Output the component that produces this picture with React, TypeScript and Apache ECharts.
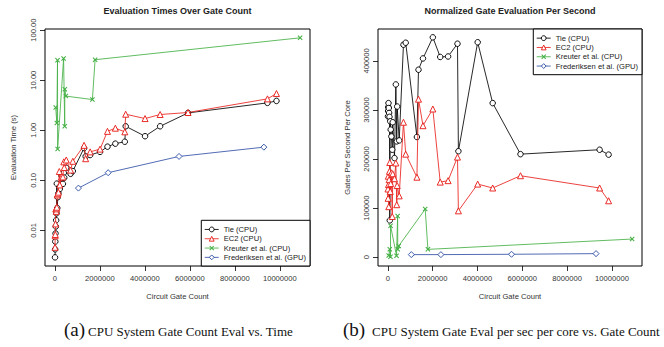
import React, { useEffect, useRef } from 'react';
import * as echarts from 'echarts';

const SERIES_NAMES = ['Tie (CPU)', 'EC2 (CPU)', 'Kreuter et al. (CPU)', 'Frederiksen et al. (GPU)'];

const tieGates = [10000, 15000, 22000, 32000, 45000, 60000, 75000, 90000, 110000, 130000, 160000, 200000, 220000, 300000, 360000, 400000, 420000, 510000, 700000, 800000, 1300000, 1370000, 1570000, 2010000, 2340000, 2690000, 3110000, 3150000, 4010000, 4680000, 5920000, 9450000, 9850000];
const tieTime = [0.0029, 0.0042, 0.006, 0.0087, 0.012, 0.016, 0.022, 0.086, 0.028, 0.046, 0.055, 0.073, 0.067, 0.124, 0.085, 0.141, 0.113, 0.178, 0.135, 0.153, 0.44, 0.3, 0.32, 0.37, 0.47, 0.54, 0.59, 1.2, 0.76, 1.2, 2.22, 3.52, 3.85];
const tieRate = [287000, 298000, 306000, 314000, 304000, 294000, 286000, 75000, 277000, 260000, 246000, 219000, 275000, 202000, 352000, 236000, 307000, 238000, 433000, 437000, 245000, 382000, 405000, 448000, 408000, 409000, 435000, 216000, 438000, 314000, 210000, 219000, 209000];

const ec2Gates = [10000, 15000, 22000, 32000, 45000, 60000, 75000, 90000, 110000, 130000, 160000, 200000, 220000, 300000, 360000, 400000, 420000, 510000, 700000, 800000, 1300000, 1370000, 1570000, 2010000, 2340000, 2690000, 3110000, 3150000, 4010000, 4680000, 5920000, 9450000, 9850000];
const ec2Time = [0.0046, 0.0078, 0.0083, 0.0135, 0.027, 0.024, 0.027, 0.029, 0.051, 0.054, 0.058, 0.15, 0.081, 0.117, 0.117, 0.234, 0.18, 0.255, 0.16, 0.24, 0.5, 0.27, 0.37, 0.42, 0.95, 1.1, 0.93, 2.09, 1.71, 2.06, 2.26, 4.23, 5.41];
const ec2Rate = [139000, 120000, 165000, 148000, 103000, 158000, 175000, 193000, 134000, 150000, 172000, 83000, 170000, 160000, 192000, 107000, 146000, 125000, 275000, 210000, 163000, 322000, 268000, 302000, 153000, 156000, 204000, 94500, 149000, 141000, 166000, 141000, 115000];

const kreuterGates = [40000, 90000, 120000, 125000, 390000, 440000, 445000, 490000, 1670000, 1790000, 10900000];
const kreuterTime = [2.84, 1.4, 25, 0.42, 27, 1.2, 6.6, 4.8, 4.1, 25.6, 70];
const kreuterRate = [3400, 16000, 1000, 64000, 3000, 84000, 16000, 23000, 98000, 16000, 37000];

const fredGates = [1050000, 2370000, 5520000, 9290000];
const fredTime = [0.07, 0.142, 0.3, 0.46];
const fredRate = [5300, 5300, 6000, 7300];

const gateTicks = [0, 2000000, 4000000, 6000000, 8000000, 10000000];
const timeTicks = [0.01, 0.1, 1, 10, 100];
const rateTicks = [0, 100000, 200000, 300000, 400000];

const FONT = '"Liberation Sans", Arial, Helvetica, sans-serif';
const SERIF = '"Liberation Serif", "Times New Roman", serif';
const COLORS = ['#000000', '#e8211c', '#45b045', '#3352a6'];
const X_PATH = 'path://M0,1.5L1.5,0L5,3.5L8.5,0L10,1.5L6.5,5L10,8.5L8.5,10L5,6.5L1.5,10L0,8.5L3.5,5Z';
const SYMBOLS = ['circle', 'triangle', X_PATH, 'diamond'];
const SIZES = [5.5, 6, 5, 6];

const zip = (a: number[], b: number[]) => a.map((v, i) => [v, b[i]]);

export default function App() {
  const ref = useRef<HTMLDivElement>(null);
  useEffect(() => {
    if (!ref.current) return;
    const chart = echarts.init(ref.current, undefined, { renderer: 'svg' });

    const labelStyle = { fontSize: 7.6, fontFamily: FONT, color: '#333' };
    const tickStyle = { lineStyle: { color: '#000', width: 0.8 }, length: 5 };
    const nameStyle = { fontSize: 7.6, fontFamily: FONT, color: '#333' };

    const mkX = (gi: number) => ({
      type: 'value', gridIndex: gi, min: -436000, max: 11340000,
      axisLine: { show: false, onZero: false },
      axisTick: { show: true, customValues: gateTicks, ...tickStyle },
      axisLabel: { customValues: gateTicks, formatter: (v: number) => String(v), margin: 8, ...labelStyle },
      splitLine: { show: false },
      name: 'Circuit Gate Count', nameLocation: 'middle', nameGap: 26, nameTextStyle: nameStyle,
    });

    const dataSets = [
      [zip(tieGates, tieTime), zip(ec2Gates, ec2Time), zip(kreuterGates, kreuterTime), zip(fredGates, fredTime)],
      [zip(tieGates, tieRate), zip(ec2Gates, ec2Rate), zip(kreuterGates, kreuterRate), zip(fredGates, fredRate)],
    ];

    const series: any[] = [];
    for (let g = 0; g < 2; g++) {
      for (let s = 0; s < 4; s++) {
        const isPath = s === 2;
        series.push({
          type: 'line', name: SERIES_NAMES[s], xAxisIndex: g, yAxisIndex: g,
          data: dataSets[g][s], symbol: SYMBOLS[s], symbolSize: SIZES[s], showSymbol: true,
          lineStyle: { color: COLORS[s], width: 0.85 },
          itemStyle: isPath ? { color: COLORS[s], borderWidth: 0 } : { color: '#ffffff', borderColor: COLORS[s], borderWidth: 0.95 },
          emphasis: { disabled: true }, silent: true, z: 2 + s,
        });
      }
    }

    const legendBase = {
      data: SERIES_NAMES, orient: 'vertical', backgroundColor: '#fff', borderColor: '#000', borderWidth: 1,
      borderRadius: 0, padding: [4.5, 4, 4, 3], itemWidth: 14, itemHeight: 6, itemGap: 0,
      itemStyle: { borderWidth: 0.95 },
      lineStyle: { width: 0.85 },
      textStyle: { fontSize: 7.6, fontFamily: FONT, color: '#222', lineHeight: 9.3 },
      selectedMode: false, z: 10,
    };

    chart.setOption({
      animation: false,
      backgroundColor: '#ffffff',
      grid: [
        { left: 45, top: 29, width: 265, height: 237, show: true, borderColor: '#000', borderWidth: 1, backgroundColor: 'transparent' },
        { left: 378, top: 29, width: 264, height: 237, show: true, borderColor: '#000', borderWidth: 1, backgroundColor: 'transparent' },
      ],
      xAxis: [mkX(0), mkX(1)],
      yAxis: [
        {
          type: 'log', logBase: 10, gridIndex: 0, min: 0.00195, max: 105,
          axisLine: { show: false, onZero: false },
          axisTick: { show: true, customValues: timeTicks, ...tickStyle },
          axisLabel: { customValues: timeTicks, rotate: 90, margin: 8, formatter: (v: number) => Number(v).toFixed(2), ...labelStyle },
          splitLine: { show: false }, minorTick: { show: false },
          name: 'Evaluation Time (s)', nameLocation: 'middle', nameGap: 28, nameTextStyle: nameStyle,
        },
        {
          type: 'value', gridIndex: 1, min: -17900, max: 465000,
          axisLine: { show: false, onZero: false },
          axisTick: { show: true, customValues: rateTicks, ...tickStyle },
          axisLabel: { customValues: rateTicks, rotate: 90, margin: 8, formatter: (v: number) => String(v), ...labelStyle },
          splitLine: { show: false },
          name: 'Gates Per Second Per Core', nameLocation: 'middle', nameGap: 27, nameTextStyle: nameStyle,
        },
      ],
      legend: [
        { ...legendBase, right: 354, bottom: 81 },
        { ...legendBase, right: 22, top: 29 },
      ],
      graphic: [
        { type: 'text', x: 177.5, y: 11, style: { text: 'Evaluation Times Over Gate Count', font: `bold 9px ${FONT}`, fill: '#222', align: 'center', verticalAlign: 'middle' } },
        { type: 'text', x: 510, y: 11, style: { text: 'Normalized Gate Evaluation Per Second', font: `bold 9px ${FONT}`, fill: '#222', align: 'center', verticalAlign: 'middle' } },
        { type: 'text', x: 64, y: 329, style: { text: '(a)', font: `19px ${SERIF}`, fill: '#111', align: 'left', verticalAlign: 'middle' } },
        { type: 'text', x: 88, y: 331, style: { text: 'CPU System Gate Count Eval vs. Time', font: `13px ${SERIF}`, fill: '#111', align: 'left', verticalAlign: 'middle' } },
        { type: 'text', x: 343, y: 329, style: { text: '(b)', font: `19px ${SERIF}`, fill: '#111', align: 'left', verticalAlign: 'middle' } },
        { type: 'text', x: 372, y: 331, style: { text: 'CPU System Gate Eval per sec per core vs. Gate Count', font: `13px ${SERIF}`, fill: '#111', align: 'left', verticalAlign: 'middle' } },
      ],
      series,
    });

    return () => chart.dispose();
  }, []);

  return <div ref={ref} style={{ position: 'fixed', left: 0, top: 0, width: 664, height: 347, background: '#fff' }} />;
}
